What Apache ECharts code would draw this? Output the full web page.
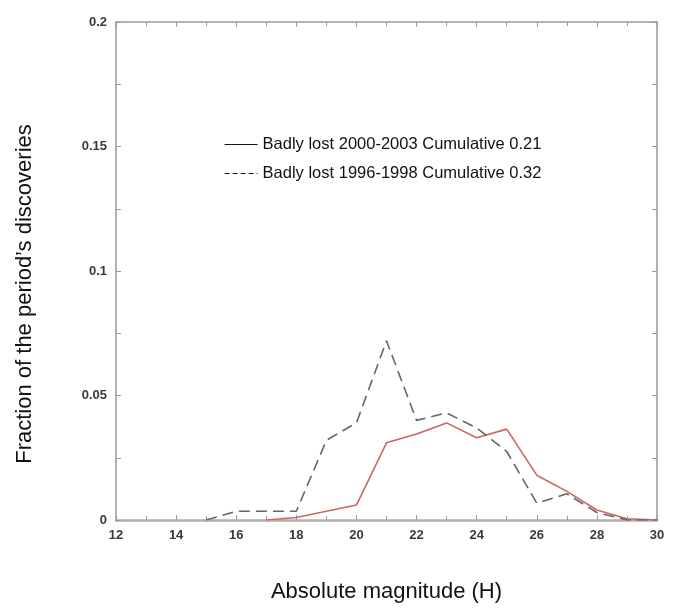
<!DOCTYPE html>
<html>
<head>
<meta charset="utf-8">
<script src="https://cdn.jsdelivr.net/npm/echarts@6/dist/echarts.min.js"></script>
<style>
html,body{margin:0;padding:0;background:#fff;}
#main{width:675px;height:608px;}
</style>
</head>
<body>
<div id="main"></div>
<script>
// absolute magnitude H (bin centres)
var mags = [12,13,14,15,16,17,18,19,20,21,22,23,24,25,26,27,28,29,30];

// fraction of the period's discoveries, null = no data drawn
var lost2000 = [null,null,null,null,null,0,0.001,0.0035,0.006,0.031,0.0345,0.039,0.033,0.0365,0.018,0.0115,0.004,0.0005,0];
var lost1996 = [null,null,null,0,0.0035,0.0035,0.0035,0.032,0.039,0.072,0.040,0.043,0.037,0.0275,0.0068,0.0105,0.003,0,0];

var name2000 = 'Badly lost 2000-2003 Cumulative 0.21';
var name1996 = 'Badly lost 1996-1998 Cumulative 0.32';

function pairs(ys){
    var out = [];
    for(var i = 0; i < mags.length; i++){
        if(ys[i] !== null) out.push([mags[i], ys[i]]);
    }
    return out;
}

var chart = echarts.init(document.getElementById('main'));

var frameColor = '#9a9a9a';
var labelStyle = {color:'#3a3a3a', fontSize:13, fontWeight:'bold', fontFamily:'Liberation Sans, Arial, sans-serif'};

var option = {
    animation: false,
    grid: {left:116, right:18, top:22, bottom:86},
    legend: {
        orient: 'vertical',
        left: 224,
        top: 136,
        padding: 0,
        itemWidth: 33,
        itemHeight: 14,
        itemGap: 12,
        selectedMode: false,
        itemStyle: {opacity:0},
        textStyle: {color:'#111', fontSize:16.5, fontFamily:'Liberation Sans, Arial, sans-serif'},
        data: [
            {name:name2000, itemStyle:{opacity:0}, lineStyle:{color:'#111', width:1.2, type:'solid'}},
            {name:name1996, itemStyle:{opacity:0}, lineStyle:{color:'#111', width:1.2, type:[5,3]}}
        ]
    },
    xAxis: [{
        type: 'value',
        min: 12, max: 30, interval: 2,
        name: 'Absolute magnitude (H)',
        nameLocation: 'middle',
        nameGap: 61,
        nameTextStyle: {color:'#111', fontSize:22, fontFamily:'Liberation Sans, Arial, sans-serif'},
        axisLine: {show:true, lineStyle:{color:'#b0b0b0', width:2.5}},
        axisTick: {inside:true, length:5, lineStyle:{color:frameColor}},
        minorTick: {show:true, splitNumber:2, length:4, lineStyle:{color:frameColor}},
        axisLabel: Object.assign({margin:9}, labelStyle),
        splitLine: {show:false}
    },{
        type: 'value', position: 'top',
        min: 12, max: 30, interval: 2,
        axisLine: {show:true, onZero:false, lineStyle:{color:frameColor, width:1.5}},
        axisTick: {inside:true, length:5, lineStyle:{color:frameColor}},
        minorTick: {show:true, splitNumber:2, length:4, lineStyle:{color:frameColor}},
        axisLabel: {show:false},
        splitLine: {show:false}
    }],
    yAxis: [{
        type: 'value',
        min: 0, max: 0.2, interval: 0.05,
        name: 'Fraction of the period\u2019s discoveries',
        nameLocation: 'middle',
        nameGap: 80,
        nameTextStyle: {color:'#111', fontSize:22, fontFamily:'Liberation Sans, Arial, sans-serif', padding:[0,46,0,0]},
        axisLine: {show:true, lineStyle:{color:frameColor, width:1.5}},
        axisTick: {inside:true, length:5, lineStyle:{color:frameColor}},
        minorTick: {show:true, splitNumber:2, length:5, lineStyle:{color:frameColor}},
        axisLabel: Object.assign({margin:9}, labelStyle),
        splitLine: {show:false}
    },{
        type: 'value', position: 'right',
        min: 0, max: 0.2, interval: 0.05,
        axisLine: {show:true, onZero:false, lineStyle:{color:frameColor, width:1.5}},
        axisTick: {inside:true, length:5, lineStyle:{color:frameColor}},
        minorTick: {show:true, splitNumber:2, length:5, lineStyle:{color:frameColor}},
        axisLabel: {show:false},
        splitLine: {show:false}
    }],
    series: [
        {
            name: name2000,
            type: 'line',
            symbol: 'none',
            data: pairs(lost2000),
            lineStyle: {color:'#d06464', width:1.6},
            itemStyle: {color:'#d06464'}
        },
        {
            name: name1996,
            type: 'line',
            symbol: 'none',
            data: pairs(lost1996),
            lineStyle: {color:'#666', width:1.6, type:[11,6]},
            itemStyle: {color:'#666'}
        }
    ]
};

chart.setOption(option);
</script>
</body>
</html>
